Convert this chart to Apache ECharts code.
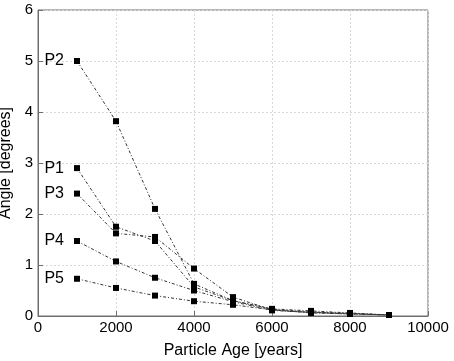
<!DOCTYPE html>
<html>
<head>
<meta charset="utf-8">
<script src="https://cdn.jsdelivr.net/npm/echarts@6/dist/echarts.min.js"></script>
<style>
  html, body { margin: 0; padding: 0; background: #fff; }
  #chart { width: 454px; height: 361px; }
</style>
</head>
<body>
<div id="chart"></div>
<script>
var ages = [1000, 2000, 3000, 4000, 5000, 6000, 7000, 8000, 9000];
var seriesNames = ["P1", "P2", "P3", "P4", "P5"];
var p1 = [2.9, 1.75, 1.47, 0.57, 0.3, 0.13, 0.08, 0.05, 0.02];
var p2 = [5.0, 3.82, 2.1, 0.63, 0.3, 0.14, 0.1, 0.06, 0.02];
var p3 = [2.4, 1.62, 1.55, 0.93, 0.37, 0.12, 0.07, 0.05, 0.02];
var p4 = [1.47, 1.07, 0.75, 0.5, 0.28, 0.11, 0.07, 0.04, 0.02];
var p5 = [0.73, 0.55, 0.4, 0.29, 0.22, 0.12, 0.06, 0.04, 0.02];
var xTicks = [0, 2000, 4000, 6000, 8000, 10000];
var yTicks = [0, 1, 2, 3, 4, 5, 6];

var chartDom = document.getElementById("chart");
var myChart = echarts.init(chartDom);

var font = "Liberation Sans, Arial, sans-serif";

function makeSeries(name, values) {
  var data = ages.map(function (a, i) {
    var item = { value: [a, values[i]] };
    if (i === 0) {
      item.label = {
        show: true,
        position: "left",
        distance: 10,
        formatter: name,
        color: "#000",
        fontSize: 16,
        fontFamily: font,
      };
    }
    return item;
  });
  return {
    name: name,
    type: "line",
    data: data,
    symbol: "rect",
    symbolSize: 6,
    itemStyle: { color: "#000" },
    lineStyle: { color: "#333", width: 1, type: [3, 2, 1, 2] },
    label: { show: false },
    z: 3,
  };
}

var allValues = [p1, p2, p3, p4, p5];

var option = {
  animation: false,
  grid: {
    left: 38,
    right: 26,
    top: 10,
    bottom: 45,
    outerBoundsMode: "none",
    containLabel: false,
    show: true,
    borderColor: "#6e6e6e",
    borderWidth: 1,
  },
  xAxis: {
    type: "value",
    min: xTicks[0],
    max: xTicks[xTicks.length - 1],
    interval: 2000,
    name: "Particle Age [years]",
    nameLocation: "middle",
    nameGap: 27,
    nameTextStyle: { fontSize: 16, color: "#000", fontFamily: font },
    axisLine: { lineStyle: { color: "#6e6e6e" } },
    axisTick: { inside: true, length: 5, lineStyle: { color: "#6e6e6e" } },
    axisLabel: {
      fontSize: 15,
      color: "#000",
      fontFamily: font,
      margin: 4,
      formatter: function (v) { return String(v); },
    },
    splitLine: { show: true, lineStyle: { color: "#d8d8d8", type: [2, 2] } },
  },
  yAxis: {
    type: "value",
    min: yTicks[0],
    max: yTicks[yTicks.length - 1],
    interval: 1,
    name: "Angle [degrees]",
    nameLocation: "middle",
    nameGap: 20,
    nameTextStyle: { fontSize: 16, color: "#000", fontFamily: font },
    axisLine: { show: true, lineStyle: { color: "#6e6e6e" } },
    axisTick: { show: true, inside: true, length: 5, lineStyle: { color: "#6e6e6e" } },
    axisLabel: { fontSize: 15, color: "#000", fontFamily: font, margin: 5 },
    splitLine: { show: true, lineStyle: { color: "#d8d8d8", type: [2, 2] } },
  },
  series: seriesNames.map(function (n, i) {
    return makeSeries(n, allValues[i]);
  }),
};

myChart.setOption(option);
</script>
</body>
</html>
